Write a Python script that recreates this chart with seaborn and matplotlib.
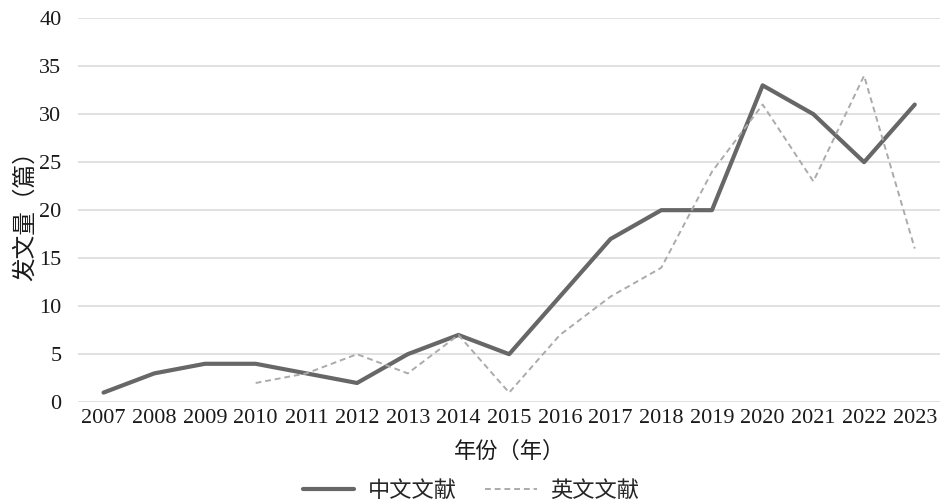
import matplotlib
matplotlib.use('Agg')
import matplotlib.pyplot as plt
from matplotlib.lines import Line2D
import seaborn as sns
import numpy as np
import pandas as pd

years = [2007, 2008, 2009, 2010, 2011, 2012, 2013, 2014, 2015, 2016,
         2017, 2018, 2019, 2020, 2021, 2022, 2023]
zh_counts = [1, 3, 4, 4, 3, 2, 5, 7, 5, 11, 17, 20, 20, 33, 30, 25, 31]
en_counts = [np.nan, np.nan, np.nan, 2, 3, 5, 3, 7, 1, 7, 11, 14, 24, 31, 23, 34, 16]
series_names = ['中文文献', '英文文献']

sns.set_theme(style='white')
plt.rcParams['font.family'] = ['Liberation Serif', 'Noto Sans CJK SC']
plt.rcParams['axes.unicode_minus'] = False

df = pd.DataFrame({
    'year': years * 2,
    'count': zh_counts + en_counts,
    'series': [series_names[0]] * len(years) + [series_names[1]] * len(years),
})
df['pos'] = df['year'] - years[0]

fig = plt.figure(figsize=(9.42, 5.04), dpi=100)
ax = fig.add_axes([0.083, 0.202, 0.915, 0.762])

palette = {series_names[0]: '#676767', series_names[1]: '#ababab'}
sns.lineplot(data=df, x='pos', y='count', hue='series', style='series',
             palette=palette, dashes={series_names[0]: '', series_names[1]: (3, 2)},
             size='series', sizes={series_names[0]: 3.0, series_names[1]: 1.4},
             ax=ax, legend=False)

ax.set_xlim(-0.5, len(years) - 0.5)
ax.set_ylim(0, 40)
ax.set_yticks(range(0, 41, 5))
ax.set_xticks(range(len(years)))
ax.set_xticklabels([str(y) for y in years])
ax.tick_params(axis='both', labelsize=16, length=0, colors='#1a1a1a')
ax.tick_params(axis='x', pad=5)
ax.tick_params(axis='y', pad=12)
ax.yaxis.grid(True, color='#dcdcdc', linewidth=1.2)
ax.xaxis.grid(False)
for s in ax.spines.values():
    s.set_visible(False)
ax.set_axisbelow(True)

ax.set_xlabel('年份（年）', fontsize=16, color='#1a1a1a', labelpad=10)
ax.set_ylabel('发文量（篇）', fontsize=17, color='#1a1a1a', labelpad=2)

handles = [Line2D([], [], color='#676767', lw=3.0),
           Line2D([], [], color='#ababab', lw=1.4, dashes=(3, 2))]
fig.legend(handles, series_names, loc='lower center', bbox_to_anchor=(0.5, -0.035),
           ncol=2, frameon=False, fontsize=16, handlelength=2.3, columnspacing=1.3,
           handletextpad=0.6)

fig.savefig('out.png', dpi=100)
